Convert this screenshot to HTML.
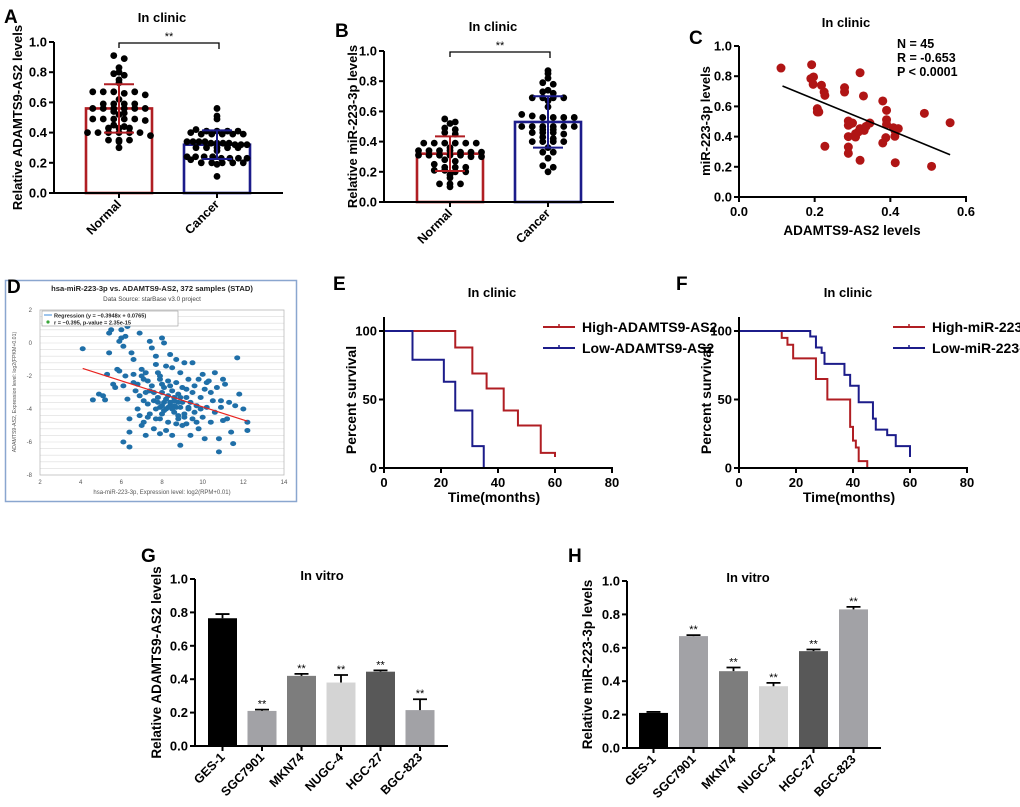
<!DOCTYPE html>
<html><head><meta charset="utf-8">
<style>
html,body{margin:0;padding:0;background:#fff;}
svg{display:block;font-family:"Liberation Sans",Arial,sans-serif;}
</style></head>
<body>
<svg id="fig" width="1020" height="807" viewBox="0 0 1020 807" xmlns="http://www.w3.org/2000/svg"></svg>
<script>
// ---------- DATA ----------
const groupCats=["Normal","Cancer"];
const aNormal=[0.91,0.89,0.83,0.80,0.79,0.78,0.75,0.73,0.67,0.67,0.67,0.66,0.67,0.65,0.62,0.59,0.59,0.59,0.59,0.56,0.56,0.56,0.56,0.56,0.56,0.54,0.53,0.52,0.49,0.49,0.49,0.49,0.49,0.48,0.45,0.44,0.43,0.43,0.43,0.40,0.40,0.40,0.40,0.40,0.40,0.38,0.35,0.35,0.35,0.34,0.30];
const aCancer=[0.56,0.51,0.49,0.42,0.41,0.41,0.41,0.41,0.40,0.39,0.39,0.39,0.39,0.39,0.34,0.34,0.34,0.34,0.33,0.33,0.33,0.33,0.32,0.32,0.32,0.30,0.30,0.30,0.30,0.30,0.28,0.24,0.24,0.24,0.24,0.23,0.23,0.23,0.23,0.22,0.20,0.20,0.20,0.20,0.20,0.19,0.11];
const aMeans=[0.56,0.32];
const aSDs=[0.16,0.095];
const bNormal=[0.55,0.53,0.52,0.49,0.48,0.46,0.45,0.39,0.39,0.39,0.39,0.39,0.39,0.36,0.34,0.34,0.34,0.34,0.33,0.33,0.33,0.31,0.31,0.31,0.31,0.31,0.30,0.30,0.28,0.27,0.25,0.23,0.23,0.23,0.21,0.21,0.20,0.20,0.18,0.16,0.12,0.12,0.12,0.10];
const bCancer=[0.87,0.85,0.82,0.79,0.78,0.74,0.73,0.72,0.69,0.69,0.69,0.69,0.67,0.63,0.58,0.57,0.56,0.56,0.56,0.56,0.50,0.50,0.50,0.50,0.50,0.50,0.48,0.48,0.46,0.46,0.46,0.45,0.43,0.42,0.40,0.40,0.40,0.40,0.36,0.33,0.33,0.29,0.24,0.23,0.20];
const bMeans=[0.32,0.53];
const bSDs=[0.115,0.17];
const yTicks01=[0,0.2,0.4,0.6,0.8,1.0];

const cX=[0.111,0.192,0.190,0.197,0.196,0.218,0.225,0.227,0.207,0.207,0.211,0.227,0.279,0.279,0.320,0.329,0.289,0.289,0.300,0.289,0.289,0.289,0.308,0.308,0.320,0.331,0.336,0.346,0.320,0.380,0.390,0.390,0.390,0.388,0.380,0.408,0.421,0.412,0.413,0.490,0.509,0.558,0.295,0.412,0.315];
const cY=[0.854,0.876,0.784,0.795,0.746,0.740,0.695,0.673,0.585,0.563,0.563,0.336,0.724,0.695,0.823,0.669,0.503,0.475,0.490,0.400,0.331,0.289,0.419,0.397,0.453,0.441,0.468,0.490,0.243,0.636,0.574,0.512,0.481,0.393,0.358,0.459,0.453,0.402,0.227,0.554,0.203,0.492,0.485,0.440,0.430];
const cFitX=[0.115,0.558];
const cFitY=[0.735,0.28];
const cTicksX=[0,0.2,0.4,0.6];

const dX=[4.1,4.6,4.9,5.1,5.2,5.3,5.4,5.4,5.5,5.6,5.7,5.8,5.9,6.0,6.0,6.1,6.2,6.3,6.2,6.1,6.3,6.4,6.1,6.4,6.4,6.5,6.6,6.6,6.7,6.8,6.9,6.9,7.0,7.0,7.1,7.1,7.2,7.2,7.3,7.4,7.4,7.5,7.5,7.6,7.6,7.7,7.7,7.7,7.8,7.8,7.9,7.9,7.9,8.0,8.0,8.0,8.1,8.1,8.1,8.2,8.2,8.2,8.3,8.3,8.3,8.4,8.4,8.5,8.5,8.5,8.6,8.6,8.7,8.7,8.7,8.8,8.8,8.9,8.9,9.0,9.0,9.0,9.1,9.1,9.2,9.2,9.3,9.3,9.4,9.5,9.5,9.5,9.6,9.7,9.8,9.8,9.9,10.0,10.0,10.1,10.1,10.2,10.3,10.4,10.5,10.6,10.6,10.7,10.8,10.8,10.9,11.0,11.0,11.1,11.2,11.3,11.4,11.5,11.6,11.7,11.8,12.0,12.2,12.2,7.8,8.0,8.2,8.4,8.6,8.8,8.1,8.5,8.9,8.3,7.6,7.4,7.2,9.4,9.6,7.9,8.7,7.3,6.8,7.0,5.9,6.6,7.3,7.9,8.4,8.9,9.3,9.9,10.4,10.9,6.9,7.7,8.6,9.1,9.7,10.2,7.1,8.0,8.8,9.2];
const dY=[-0.35,-3.45,-3.1,-3.2,-3.45,-1.9,-0.6,0.6,0.8,-2.5,-2.7,-1.6,0.1,0.3,0.8,-0.2,0.4,1.0,-2.0,-2.6,-3.4,-4.6,-6.0,-6.3,-5.4,-0.6,-1.0,-2.4,-2.9,-4.0,0.6,-3.2,-1.6,-5.0,-2.2,-4.8,-1.8,-5.6,-3.7,0.1,-4.3,-0.3,-2.6,-3.0,-5.2,-0.8,-1.3,-4.6,-1.8,-3.3,-2.2,-3.9,-5.5,0.3,-3.0,-4.3,0.0,-2.7,-3.6,-1.4,-4.0,-5.3,-2.3,-3.2,-4.8,-0.7,-3.8,-1.5,-2.9,-5.6,-3.5,-4.2,-1.0,-2.4,-3.9,-3.1,-4.6,-1.8,-6.2,-2.7,-3.6,-5.0,-1.2,-4.3,-3.3,-4.9,-2.2,-4.0,-5.6,-1.2,-3.0,-4.6,-2.6,-3.8,-2.2,-5.2,-3.3,-1.9,-4.5,-2.8,-5.8,-3.9,-2.3,-4.8,-3.5,-1.8,-4.2,-2.7,-5.8,-6.6,-3.9,-2.2,-4.7,-2.5,-4.6,-3.6,-5.4,-6.1,-3.8,-0.9,-3.1,-4.0,-4.8,-5.3,-3.6,-3.8,-3.4,-3.6,-3.8,-3.6,-4.1,-4.0,-3.9,-3.9,-3.5,-2.9,-3.0,-3.6,-4.2,-4.6,-4.9,-4.5,-2.5,-2.0,-1.7,-1.9,-2.3,-2.0,-2.6,-3.3,-3.9,-4.0,-3.0,-3.5,-4.4,-4.0,-3.3,-4.5,-4.8,-2.4,-3.5,-2.5,-4.4,-2.8];
const dSlope=-0.3948, dIntercept=0.0765;
const dFitRange=[4.1,12.2];
const dTicksX=[2,4,6,8,10,12,14];
const dTicksY=[2,0,-2,-4,-6,-8];

const eHighT=[25,31,36,42,47,55,60];
const eHighS=[88,69,58,42,31,11,8];
const eLowT=[10,21,25,31,35];
const eLowS=[79,63,42,16,0];
const fHighT=[15,17,19,27,31,39,40,41,42,45];
const fHighS=[95,90,80,65,50,30,20,15,5,0];
const fLowT=[25,27,29,30,37,39,42,47,48,52,55,60];
const fLowS=[96,88,84,76,68,60,48,36,28,24,16,8];
const survTicksX=[0,20,40,60,80];
const survTicksY=[0,50,100];

const cellLines=["GES-1","SGC7901","MKN74","NUGC-4","HGC-27","BGC-823"];
const gVals=[0.765,0.21,0.42,0.38,0.445,0.215];
const gErr=[0.025,0.008,0.012,0.045,0.008,0.065];
const hVals=[0.21,0.67,0.46,0.37,0.58,0.83];
const hErr=[0.006,0.006,0.022,0.02,0.01,0.015];
const barColors=["#000000","#a2a2a6","#7d7d7d","#d4d4d4","#585858","#a2a2a6"];

// ---------- HELPERS ----------
const NS='http://www.w3.org/2000/svg';
const svg=document.getElementById('fig');
function mk(tag,attrs,parent){const e=document.createElementNS(NS,tag);for(const k in attrs)e.setAttribute(k,attrs[k]);(parent||svg).appendChild(e);return e;}
function txt(x,y,s,size,anchor,weight,parent,extra){const e=mk('text',Object.assign({x:x,y:y,'font-size':size,'text-anchor':anchor||'start','font-weight':weight||'bold',fill:'#000'},extra||{}),parent);e.textContent=s;return e;}
function lin(d0,d1,r0,r1){return v=>r0+(v-d0)/(d1-d0)*(r1-r0);}
function grp(name){const g=mk('g',{});return g;}
function fmt1(v){return v.toFixed(1);}

function yAxis(g,x,yTop,yBot,ticks,ys,fmt,size){
  const ax=mk('line',{x1:x,y1:yTop,x2:x,y2:yBot,stroke:'#000','stroke-width':2},g);
  
  
  ticks.forEach(t=>{const yy=ys(t);
    mk('line',{x1:x-5,y1:yy,x2:x,y2:yy,stroke:'#000','stroke-width':2},g);
    const l=txt(x-7,yy+4.5,fmt(t),size||13,'end','bold',g);
    
    
  });
}
function xAxisLine(g,x0,x1,y){const ax=mk('line',{x1:x0-1,y1:y,x2:x1,y2:y,stroke:'#000','stroke-width':2},g);
  
  }
function rotLabel(g,cx,y,s,size){const t=txt(cx+3,y+12,s,size,'end','bold',g,{transform:'rotate(-45 '+(cx+3)+' '+(y+12)+')'});
  
  }
function vLabel(g,x,y,s,size){const t=txt(x,y,s,size,'middle','bold',g,{transform:'rotate(-90 '+x+' '+y+')'});
  
  }
function panelLetter(x,y,s){const t=txt(x,y,s,19,'start','bold');
  
  }
function title(g,x,y,s){const t=txt(x,y,s,13,'middle','bold',g);
  
  }

// ---------- DOT PLOT (A, B) ----------
function dotPlot(name,ax,groups,means,sds,ylab,ylabX){
  const g=grp(name);
  const ys=lin(0,1,ax.y0,ax.y1);
  const cols=['#b01e23','#1c1c8a'];
  const halfW=(ax.barW)/2;
  groups.forEach((vals,i)=>{
    const cx=ax.centers[i];
    const bar=mk('rect',{x:cx-halfW,y:ys(means[i]),width:ax.barW,height:ax.y0-ys(means[i]),fill:'none',stroke:cols[i],'stroke-width':2.6},g);
    
    
    const bins={};
    vals.forEach(v=>{const k=Math.round(v/0.03);(bins[k]=bins[k]||[]).push(v);});
    Object.keys(bins).forEach(k=>{const arr=bins[k];const n=arr.length;
      const sp=n>7?Math.min(10.5,60/(n-1)):10.5;
      arr.forEach((v,j)=>{const dx=(j-(n-1)/2)*sp;
        const c=mk('circle',{cx:cx+dx,cy:ys(v),r:3.4,fill:'#000'},g);
        
        
      });});
    const lo=ys(means[i]-sds[i]),hi=ys(means[i]+sds[i]);
    const eb=mk('path',{d:`M${cx},${lo}V${hi}M${cx-15},${hi}H${cx+15}M${cx-15},${lo}H${cx+15}`,stroke:cols[i],'stroke-width':2,fill:'none'},g);
    
    
    mk('line',{x1:cx,y1:ax.y0,x2:cx,y2:ax.y0+5,stroke:'#000','stroke-width':2},g);
    rotLabel(g,cx,ax.y0,groupCats[i],12.5);
  });
  xAxisLine(g,ax.x,ax.xEnd,ax.y0);
  yAxis(g,ax.x,ax.y1,ax.y0,yTicks01,ys,fmt1,13);
  const yb=ys(1.0)+1;
  const br=mk('path',{d:`M${ax.centers[0]},${yb+5}V${yb}H${ax.centers[1]+2}V${yb+6}`,stroke:'#000','stroke-width':1.3,fill:'none'},g);
  
  
  const st=txt((ax.centers[0]+ax.centers[1])/2+1,yb-3,'**',11,'middle','normal',g);
  
  
  vLabel(g,ylabX,(ax.y0+ax.y1)/2,ylab,13);
}

panelLetter(4,23,'A');
const gA0=grp('panel-a');
title(gA0,162,22,'In clinic');
dotPlot('panel-a-plot',{x:54,xEnd:283,y0:193,y1:42,centers:[119,217],barW:66},[aNormal,aCancer],aMeans,aSDs,'Relative ADAMTS9-AS2 levels',22);

panelLetter(335,37,'B');
const gB0=grp('panel-b');
title(gB0,493,31,'In clinic');
dotPlot('panel-b-plot',{x:384,xEnd:614,y0:202,y1:51,centers:[450,548],barW:66},[bNormal,bCancer],bMeans,bSDs,'Relative miR-223-3p levels',357);

// ---------- C ----------
(function(){
  panelLetter(689,44,'C');
  const g=grp('panel-c');
  title(g,846,27,'In clinic');
  const xs=lin(0,0.6,739,966), ys=lin(0,1,197,46);
  cX.forEach((v,i)=>{const c=mk('circle',{cx:xs(v),cy:ys(cY[i]),r:4.5,fill:'#b01515'},g);
    
    });
  const fl=mk('line',{x1:xs(cFitX[0]),y1:ys(cFitY[0]),x2:xs(cFitX[1]),y2:ys(cFitY[1]),stroke:'#000','stroke-width':1.6},g);
  
  
  xAxisLine(g,739,967,197);
  cTicksX.forEach(t=>{mk('line',{x1:xs(t),y1:197,x2:xs(t),y2:202,stroke:'#000','stroke-width':2},g);
    const l=txt(xs(t),216,fmt1(t),13,'middle','bold',g);
    
    });
  yAxis(g,739,46,197,yTicks01,ys,fmt1,13);
  vLabel(g,710,121,'miR-223-3p levels',13);
  const xl=txt(852,235,'ADAMTS9-AS2 levels',13.5,'middle','bold',g);
  
  
  ['N = 45','R = -0.653','P < 0.0001'].forEach((s,i)=>{const t=txt(897,48+i*14,s,12.5,'start','bold',g);
    
    });
})();

// ---------- D ----------
(function(){
  const g=grp('panel-d');
  const fr=mk('rect',{x:5.5,y:280.5,width:291,height:221,fill:'#fff',stroke:'#8aa6cf','stroke-width':1.5},g);
  
  
  const t1=txt(152,291,'hsa-miR-223-3p vs. ADAMTS9-AS2, 372 samples (STAD)',7.6,'middle','bold',g,{fill:'#222'});
  
  
  const t2=txt(152,301,'Data Source: starBase v3.0 project',6.3,'middle','normal',g,{fill:'#444'});
  
  
  const xs=lin(2,14,40,284), ys=lin(2,-8,310,475);
  for(let v=2;v>=-8;v-=0.4){mk('line',{x1:40,y1:ys(v),x2:284,y2:ys(v),stroke:'#dcdcdc','stroke-width':0.6},g);}
  mk('rect',{x:40,y:310,width:244,height:165,fill:'none',stroke:'#bbb','stroke-width':0.8},g);
  dX.forEach((v,i)=>{const c=mk('ellipse',{cx:xs(v),cy:ys(dY[i]),rx:3,ry:2.5,fill:'#1f6fa8'},g);
    
    });
  const fl=mk('line',{x1:xs(dFitRange[0]),y1:ys(dSlope*dFitRange[0]+dIntercept),x2:xs(dFitRange[1]),y2:ys(dSlope*dFitRange[1]+dIntercept),stroke:'#e8231f','stroke-width':1.2},g);
  
  
  dTicksX.forEach(t=>{const l=txt(xs(t),484,String(t),6,'middle','normal',g,{fill:'#555'});
    
    });
  dTicksY.forEach(t=>{const l=txt(32,ys(t)+2,String(t),6,'end','normal',g,{fill:'#555'});
    
    });
  const lb=mk('rect',{x:42,y:311,width:136,height:15,fill:'#fff',stroke:'#999','stroke-width':0.6},g);
  
  
  mk('line',{x1:44,y1:315,x2:52,y2:315,stroke:'#3b8ad8','stroke-width':1},g);
  const l1=txt(54,317.3,'Regression (y = \u22120.3948x + 0.0765)',5.6,'start','bold',g,{fill:'#222'});
  
  
  mk('circle',{cx:48,cy:322,r:1.6,fill:'#3aa63a'},g);
  const l2=txt(54,324.3,'r = \u22120.395, p-value = 2.35e-15',5.6,'start','bold',g,{fill:'#222'});
  
  
  const yl=txt(16,392,'ADAMTS9-AS2, Expression level: log2(FPKM+0.01)',5.2,'middle','normal',g,{fill:'#555',transform:'rotate(-90 16 392)'});
  
  
  const xl=txt(162,494,'hsa-miR-223-3p, Expression level: log2(RPM+0.01)',6,'middle','normal',g,{fill:'#555'});
  
  
  panelLetter(7,293,'D');
})();

// ---------- E, F ----------
function survPlot(name,ox,letterX,titleX,series,legendX,legendText){
  const g=grp(name);
  const xs=lin(0,80,ox,ox+228), ys=lin(0,100,468,331);
  title(g,titleX,297,'In clinic');
  const cols=['#b01e23','#1c1c8a'];
  series.forEach((s,i)=>{
    let d=`M${xs(0)},${ys(100)}`;
    s.t.forEach((t,j)=>{d+=`H${xs(t)}V${ys(s.s[j])}`;});
    const p=mk('path',{d:d,stroke:cols[i],'stroke-width':2,fill:'none'},g);
    
    
    const ly=327+i*21;
    mk('line',{x1:legendX,y1:ly,x2:legendX+32,y2:ly,stroke:cols[i],'stroke-width':2},g);
    mk('line',{x1:legendX+16,y1:ly-3,x2:legendX+16,y2:ly,stroke:cols[i],'stroke-width':1.5},g);
    const lt=txt(legendX+39,ly+5,legendText[i],14,'start','bold',g);
    
    
  });
  xAxisLine(g,ox,ox+229,468);
  mk('line',{x1:ox,y1:317,x2:ox,y2:468,stroke:'#000','stroke-width':2},g);
  survTicksY.forEach(t=>{mk('line',{x1:ox-5,y1:ys(t),x2:ox,y2:ys(t),stroke:'#000','stroke-width':2},g);
    const l=txt(ox-7,ys(t)+4.5,String(t),13,'end','bold',g);
    
    });
  survTicksX.forEach(t=>{mk('line',{x1:xs(t),y1:468,x2:xs(t),y2:473,stroke:'#000','stroke-width':2},g);
    const l=txt(xs(t),487,String(t),13,'middle','bold',g);
    
    });
  const xl=txt(ox+110,502,'Time(months)',14,'middle','bold',g);
  
  
  vLabel(g,ox-28,400,'Percent survival',14);
}
panelLetter(333,290,'E');
survPlot('panel-e',384,333,492,[{t:eHighT,s:eHighS},{t:eLowT,s:eLowS}],543,['High-ADAMTS9-AS2','Low-ADAMTS9-AS2']);
panelLetter(676,290,'F');
survPlot('panel-f',739,676,848,[{t:fHighT,s:fHighS},{t:fLowT,s:fLowS}],893,['High-miR-223-3p','Low-miR-223-3p']);

// ---------- G, H ----------
function barPlot(name,ax,vals,errs,ylab,ylabX){
  const g=grp(name);
  const ys=lin(0,1,ax.y0,ax.y1);
  title(g,ax.titleX,ax.y1+1,'In vitro');
  vals.forEach((v,i)=>{
    const cx=ax.first+i*ax.step;
    const b=mk('rect',{x:cx-14.5,y:ys(v),width:29,height:ax.y0-ys(v),fill:barColors[i]},g);
    
    
    const top=ys(v+errs[i]);
    const eb=mk('path',{d:`M${cx},${ys(v)}V${top}M${cx-7},${top}H${cx+7}`,stroke:'#000','stroke-width':1.8,fill:'none'},g);
    
    
    if(i>0){const s=txt(cx,top-2,'**',11,'middle','normal',g);
      
      }
    mk('line',{x1:cx,y1:ax.y0,x2:cx,y2:ax.y0+5,stroke:'#000','stroke-width':2},g);
    rotLabel(g,cx,ax.y0,cellLines[i],12.5);
  });
  xAxisLine(g,ax.x,ax.xEnd,ax.y0);
  yAxis(g,ax.x,ax.y1,ax.y0,yTicks01,ys,fmt1,13);
  vLabel(g,ylabX,(ax.y0+ax.y1)/2,ylab,13.5);
}
panelLetter(141,562,'G');
barPlot('panel-g',{x:195,xEnd:448,y0:746,y1:579,first:222.5,step:39.5,titleX:322},gVals,gErr,'Relative ADAMTS9-AS2 levels',161);
panelLetter(568,562,'H');
barPlot('panel-h',{x:627,xEnd:881,y0:748,y1:581,first:653.5,step:40,titleX:748},hVals,hErr,'Relative miR-223-3p levels',592);
</script>
</body></html>
